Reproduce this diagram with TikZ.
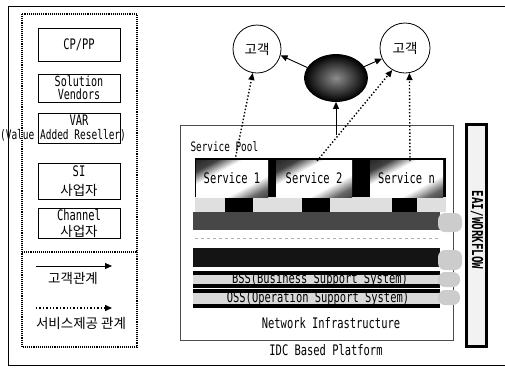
\documentclass[tikz,border=0pt]{standalone}
\usepackage{fontspec}
\usetikzlibrary{arrows.meta,shapes.geometric}
\newfontfamily\mono[FakeStretch=0.72]{DejaVu Sans Mono}
\newfontfamily\kr{Noto Sans CJK KR}
\pgfdeclarehorizontalshading{svcshade}{100bp}{color(0bp)=(black); color(26bp)=(black!75); color(38bp)=(white); color(64bp)=(white); color(76bp)=(black!60); color(100bp)=(black)}
\begin{document}
\begin{tikzpicture}[x=1pt,y=-1pt,
  mfont/.style={font=\mono\fontsize{14.5}{14}\selectfont},
  sfont/.style={font=\mono\fontsize{13}{13}\selectfont},
  kfont/.style={font=\kr\fontsize{13.5}{14}\selectfont},
  lbox/.style={draw, line width=0.8pt, minimum width=82pt, inner sep=0pt},
  frameline/.style={line width=0.9pt},
  dotline/.style={line width=1.1pt, densely dotted},
  sarrow/.style={line width=0.9pt, -{Triangle[length=7pt,width=6pt]}},
  varrow/.style={line width=1.4pt, dotted, -{Triangle[length=7pt,width=6pt]}},
  svcbox/.style={shading=svcshade, shading angle=-62, minimum height=37pt, inner sep=0pt, mfont},
  blob/.style={fill=gray!40, rounded corners=7pt},
  band/.style={fill=gray!30}
]
\useasboundingbox (0,0) rectangle (505,368);
% outer frame
\draw[frameline] (505,6) -- (8,6) -- (8,365) -- (505,365);

% ---------- left panel ----------
\draw[dotline] (22,14) rectangle (137,347);
\draw[dotline] (22,252) -- (137,252);

\node[lbox, minimum height=33pt, mfont] (cp) at (79,44.5) {CP/PP};
\node[lbox, minimum height=28pt, align=center, font=\mono\fontsize{14}{13}\selectfont] (sv) at (79,88) {Solution\\Vendors};
\node[lbox, minimum height=30pt] (var) at (79,128) {};
\node[mfont] (vart) at (79,120) {VAR};
\node[font=\mono\fontsize{13.2}{12}\selectfont] (vart2) at (63,135) {(Value Added Reseller)};
\node[lbox, minimum height=36pt] (si) at (79,181) {};
\node[mfont] (sit) at (79,171) {SI};
\node[kfont] (sik) at (79,190) {사업자};
\node[lbox, minimum height=30pt] (ch) at (79,223) {};
\node[mfont] (cht) at (79,215) {Channel};
\node[kfont] (chk) at (79,231.5) {사업자};

% legend
\coordinate (l1a) at (36,266);
\coordinate (l1b) at (112,266);
\draw[sarrow] (l1a) -- (l1b);
\node[kfont] (l1t) at (73,278) {고객관계};
\coordinate (l2a) at (36,308);
\coordinate (l2b) at (112,308);
\draw[varrow] (l2a) -- (l2b);
\node[kfont] (l2t) at (81,323) {서비스제공 관계};

% ---------- platform ----------
\node[draw=black!70, line width=0.6pt, minimum width=273pt, minimum height=215pt, inner sep=0pt] (pool) at (316.5,232.5) {};
\node[sfont, anchor=west] (poolt) at (187,147) {Service Pool};

% service area
\fill (195,158) rectangle (446,198);
\fill[gray!25] (195,197) rectangle (446,212);
\fill (225,197) rectangle (253,212);
\fill (302,197) rectangle (330,212);
\fill (392,197) rectangle (417,212);
\node[svcbox, minimum width=72pt] (s1) at (232,178.5) {Service 1};
\node[svcbox, minimum width=76pt] (s2) at (314,178.5) {Service 2};
\node[svcbox, minimum width=73pt] (sn) at (406.5,178.5) {Service n};

% bars
\fill[black!72] (193,212) rectangle (440,230);
\draw[gray!60, dashed, line width=0.8pt] (195,238) -- (440,238);
\fill[black!92] (193,248) rectangle (440,267);
\fill[band] (193,272) rectangle (440,287);
\fill (193,271) rectangle (440,274.5);
\fill (193,284) rectangle (440,287.5);
\node[mfont] (bss) at (320,279) {BSS(Business Support System)};
\fill[band] (193,290) rectangle (440,307);
\fill (193,289) rectangle (440,292.5);
\fill (193,304) rectangle (440,307.5);
\node[mfont] (oss) at (318,298.5) {OSS(Operation Support System)};
\node[mfont] (net) at (331,323) {Network Infrastructure};
\node[mfont] (idc) at (326,350) {IDC Based Platform};

% gray blobs toward EAI
\fill[blob] (438,213) rectangle (462,232);
\fill[blob] (438,250) rectangle (462,270);
\fill[blob] (438,272) rectangle (460,287);
\fill[blob] (438,290) rectangle (460,305);

% EAI bar
\node[draw, line width=3pt, fill=gray!10, minimum width=20pt, minimum height=222pt, inner sep=0pt] (eai) at (476.5,235.5) {};
\node[font=\mono\bfseries\fontsize{15}{12}\selectfont, rotate=-90] (eait) at (477,230) {EAI/WORKFLOW};

% ---------- customers ----------
\node[draw, circle, line width=0.8pt, minimum size=48pt, inner sep=0pt, kfont] (c1) at (257,49) {고객};
\node[draw, circle, line width=0.8pt, minimum size=50pt, inner sep=0pt, kfont] (c2) at (405,48) {고객};
\node[draw, ellipse, line width=0.8pt, minimum width=63pt, minimum height=47pt, inner color=black!45, outer color=black] (ball) at (336,78) {};

\draw[sarrow] (ball.160) -- (c1.-15);
\draw[sarrow] (ball.22) -- (c2.205);
\coordinate (up) at (336,135);
\draw[sarrow] (up) -- (ball.south);

\coordinate (s1top) at (235,160);
\coordinate (s2top) at (317,161);
\coordinate (sntop) at (410,161);
\draw[varrow] (s1top) -- (c1.-100);
\draw[varrow] (s2top) -- (c2.240);
\draw[varrow] (sntop) -- (c2.-80);
\end{tikzpicture}
\end{document}
